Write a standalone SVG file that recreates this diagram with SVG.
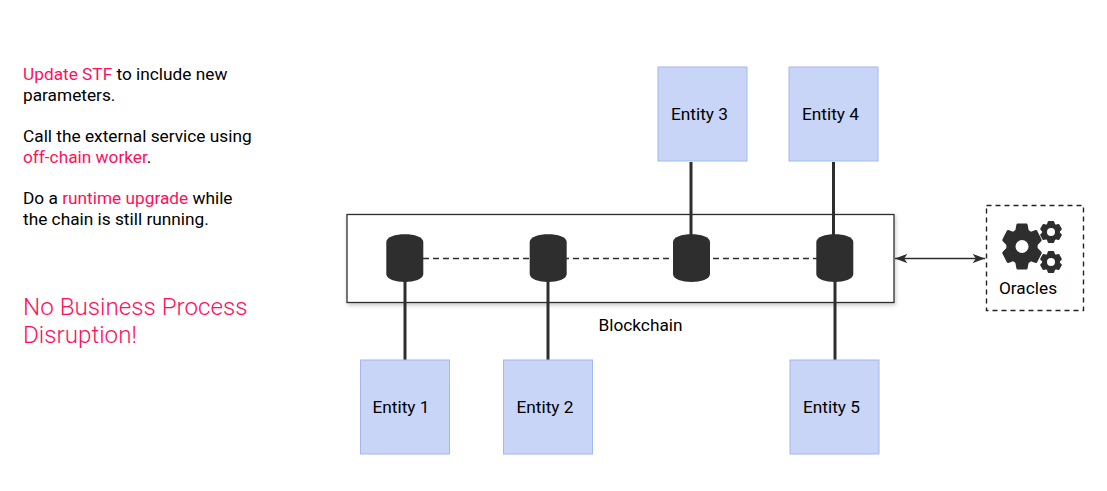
<svg xmlns="http://www.w3.org/2000/svg" width="1107" height="491" viewBox="0 0 1107 491">
<defs>
<style>
text{font-family:Roboto,"Liberation Sans",sans-serif;font-size:17.280px;fill:#000}
.p{fill:#ff0f5b}
.h{font-size:24.200px;font-weight:300;fill:#ff0f5b}
.e{fill:#c8d5f7;stroke:#a3b8f2;stroke-width:1}
.l{stroke:#2e2e2e;stroke-width:3;fill:none}
.c{fill:#2e2e2e}
.t{text-anchor:middle}
.g{fill:#2e2e2e;stroke:#2e2e2e;stroke-linejoin:round}
</style>
<filter id="sh" x="-5%" y="-10%" width="110%" height="125%"><feDropShadow dx="1" dy="2" stdDeviation="2" flood-color="#000" flood-opacity=".22"/></filter>
<marker id="ah" viewBox="0 0 10 8" refX="9.500" refY="4" markerWidth="10" markerHeight="8" orient="auto-start-reverse"><path d="M0 .5L9.500 4 0 7.500 2.500 4Z" fill="#2e2e2e"/></marker>
<path id="cyl" class="c" d="M0 -16C0 -26.500 37 -26.500 37 -16V16C37 26.500 0 26.500 0 16Z"/>
<g id="big" class="g" stroke-width="3">
<circle r="16.500"/>
<path id="tooth" d="M-5 -21.500H5L7 -12H-7Z"/>
<use href="#tooth" transform="rotate(60)"/><use href="#tooth" transform="rotate(120)"/><use href="#tooth" transform="rotate(180)"/><use href="#tooth" transform="rotate(240)"/><use href="#tooth" transform="rotate(300)"/>
</g>
<g id="small" class="g" stroke-width="2">
<circle r="7.800"/>
<path id="st" d="M-2.300 -10H2.300L3.500 -6H-3.500Z"/>
<use href="#st" transform="rotate(60)"/><use href="#st" transform="rotate(120)"/><use href="#st" transform="rotate(180)"/><use href="#st" transform="rotate(240)"/><use href="#st" transform="rotate(300)"/>
</g>
</defs>
<g id="connectors">
<rect id="chain" x="347" y="214.500" width="547" height="88" fill="#fff" stroke="#2e2e2e" stroke-width="1.300" filter="url(#sh)"/>
<path d="M423 258.500H817" stroke="#2e2e2e" stroke-width="1.300" stroke-dasharray="6 4" fill="none"/>
<path class="l" d="M405 280V360M548 280V360M691 162V236M833.500 162V236M835 280V360"/>
<path d="M895 258.500H985" stroke="#2e2e2e" stroke-width="1.300" fill="none" marker-start="url(#ah)" marker-end="url(#ah)"/>
</g>
<g id="db1"><use href="#cyl" x="386.300" y="258"/></g>
<g id="db2"><use href="#cyl" x="529.700" y="258"/></g>
<g id="db3"><use href="#cyl" x="673" y="258"/></g>
<g id="db4"><use href="#cyl" x="816.300" y="258"/></g>
<g id="entity3"><rect class="e" x="658" y="67" width="89" height="94"/><text x="699.500" y="120" class="t">Entity 3</text></g>
<g id="entity4"><rect class="e" x="789" y="67" width="89" height="94"/><text x="830.500" y="120" class="t">Entity 4</text></g>
<g id="entity1"><rect class="e" x="360.500" y="360" width="89" height="94"/><text x="401" y="413" class="t">Entity 1</text></g>
<g id="entity2"><rect class="e" x="503.500" y="360" width="89" height="94"/><text x="545" y="413" class="t">Entity 2</text></g>
<g id="entity5"><rect class="e" x="790" y="360" width="89" height="94"/><text x="831.500" y="413" class="t">Entity 5</text></g>
<g id="blockchain"><text x="640.500" y="331" class="t">Blockchain</text></g>
<g id="oracles">
<rect x="986.500" y="205.500" width="97" height="105" fill="none" stroke="#222" stroke-width="1.400" stroke-dasharray="5 4"/>
<use href="#big" transform="translate(1022 246.500) scale(.87 1)"/><circle cx="1022" cy="246.500" r="6.500" fill="#fff"/>
<use href="#small" x="1051" y="232"/><circle cx="1051" cy="232" r="4" fill="#fff"/>
<use href="#small" x="1051" y="262"/><circle cx="1051" cy="262" r="4" fill="#fff"/>
<text x="1028" y="294" class="t">Oracles</text>
</g>
<g id="notes">
<text x="23" y="80"><tspan class="p">Update STF</tspan> to include new</text>
<text x="23" y="101">parameters.</text>
<text x="23" y="142">Call the external service using</text>
<text x="23" y="163"><tspan class="p">off-chain worker</tspan>.</text>
<text x="23" y="204">Do a <tspan class="p">runtime upgrade</tspan> while</text>
<text x="23" y="225">the chain is still running.</text>
<text x="23" y="315" class="h">No Business Process</text>
<text x="23" y="343" class="h">Disruption!</text>
</g>
</svg>
